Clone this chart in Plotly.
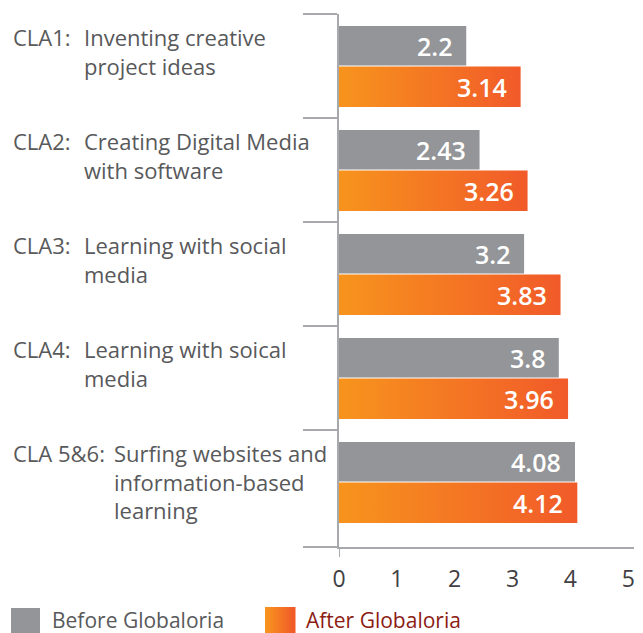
import plotly.graph_objects as go

# ---- data ----
category_codes = ["CLA1:", "CLA2:", "CLA3:", "CLA4:", "CLA 5&6:"]
category_descriptions = [
    "Inventing creative<br>project ideas",
    "Creating Digital Media<br>with software",
    "Learning with social<br>media",
    "Learning with soical<br>media",
    "Surfing websites and<br>information-based<br>learning",
]
before_values = [2.2, 2.43, 3.2, 3.8, 4.08]
after_values = [3.14, 3.26, 3.83, 3.96, 4.12]
value_labels_before = ["2.2", "2.43", "3.2", "3.8", "4.08"]
value_labels_after = ["3.14", "3.26", "3.83", "3.96", "4.12"]
x_tick_values = [0, 1, 2, 3, 4, 5]
x_tick_labels = ["0", "1", "2", "3", "4", "5"]
series_names = ["Before Globaloria", "After Globaloria"]

# ---- style / layout ----
OFF = 8  # page body margin
W, H = 643 - OFF, 633 - OFF
PLOT_LEFT, PLOT_RIGHT, PLOT_TOP, PLOT_BOTTOM = 339, 634, 14, 547  # page px
L = PLOT_LEFT - OFF
T = PLOT_TOP - OFF
PLOT_W = PLOT_RIGHT - PLOT_LEFT
PLOT_H = PLOT_BOTTOM - PLOT_TOP
R = W - L - PLOT_W
B = H - T - PLOT_H
Y_RANGE = [-0.5, 4.625]
X_RANGE = [0, 5.1]
GRAY = "#939598"
ORANGE_L = "#F7941D"
ORANGE_R = "#F15A29"
AXIS = "#A7A9AC"
TEXT = "#58595B"
DARKRED = "#8C1C13"
FONT = "Open Sans"
desc_indent_px = [83, 83, 83, 83, 113]


def px_x(p):
    return (p - PLOT_LEFT) / PLOT_W


def px_y(p):
    return (PLOT_BOTTOM - p) / PLOT_H


positions = list(range(len(category_codes)))

fig = go.Figure()

fig.add_trace(go.Bar(
    y=positions, x=before_values, orientation="h",
    width=0.38, offset=-0.385,
    marker=dict(color=GRAY, line=dict(width=0)),
    name=series_names[0], showlegend=False, hoverinfo="x",
))

for i, v in zip(positions, after_values):
    y0, y1 = i + 0.005, i + 0.395
    fig.add_trace(go.Scatter(
        x=[0, v, v, 0, 0], y=[y0, y0, y1, y1, y0],
        mode="lines", line=dict(width=0), fill="toself",
        fillgradient=dict(type="horizontal",
                          colorscale=[[0, ORANGE_L], [1, ORANGE_R]]),
        name=series_names[1], showlegend=False, hoverinfo="skip",
    ))

ann = []
for i, v, t in zip(positions, before_values, value_labels_before):
    ann.append(dict(x=v, y=i - 0.195, xref="x", yref="y", text=t,
                    xanchor="right", yanchor="middle", xshift=-12, showarrow=False,
                    font=dict(family=FONT, size=25, color="white", weight=600)))
for i, v, t in zip(positions, after_values, value_labels_after):
    ann.append(dict(x=v, y=i + 0.2, xref="x", yref="y", text=t,
                    xanchor="right", yanchor="middle", xshift=-12, showarrow=False,
                    font=dict(family=FONT, size=25, color="white", weight=600)))

for i, code, desc, ind in zip(positions, category_codes, category_descriptions, desc_indent_px):
    ann.append(dict(x=px_x(11), y=i - 0.385, xref="paper", yref="y", text=code,
                    xanchor="left", yanchor="top", yshift=6, showarrow=False, align="left",
                    font=dict(family=FONT, size=22, color=TEXT)))
    ann.append(dict(x=px_x(ind - 1), y=i - 0.385, xref="paper", yref="y", text=desc,
                    xanchor="left", yanchor="top", yshift=6, showarrow=False, align="left",
                    font=dict(family=FONT, size=22, color=TEXT)))

# legend texts
ann.append(dict(x=px_x(50), y=px_y(620), xref="paper", yref="paper",
                text=series_names[0], xanchor="left", yanchor="middle", showarrow=False,
                font=dict(family=FONT, size=21, color=TEXT)))
ann.append(dict(x=px_x(304), y=px_y(620), xref="paper", yref="paper",
                text=series_names[1], xanchor="left", yanchor="middle", showarrow=False,
                font=dict(family=FONT, size=21, color=DARKRED)))

shapes = []
# y-axis extension below x axis
shapes.append(dict(type="line", xref="x", yref="paper", x0=0, x1=0,
                   y0=0, y1=px_y(557), line=dict(color=AXIS, width=2)))
# legend swatches
shapes.append(dict(type="rect", xref="paper", yref="paper",
                   x0=px_x(11), x1=px_x(40), y0=px_y(634), y1=px_y(608),
                   line=dict(width=0), fillcolor=GRAY))


def lerp_color(c1, c2, t):
    a = [int(c1[k:k + 2], 16) for k in (1, 3, 5)]
    b = [int(c2[k:k + 2], 16) for k in (1, 3, 5)]
    return "rgb(%d,%d,%d)" % tuple(round(a[j] + (b[j] - a[j]) * t) for j in range(3))


n_strips = 15
sx0, sx1 = 265, 295
for k in range(n_strips):
    a = sx0 + (sx1 - sx0) * k / n_strips
    b = sx0 + (sx1 - sx0) * (k + 1) / n_strips + 0.5
    shapes.append(dict(type="rect", xref="paper", yref="paper",
                       x0=px_x(a), x1=px_x(b), y0=px_y(634), y1=px_y(607),
                       line=dict(width=0),
                       fillcolor=lerp_color(ORANGE_L, ORANGE_R, k / (n_strips - 1))))

fig.update_layout(
    width=W, height=H,
    margin=dict(l=L, r=R, t=T, b=B, pad=0),
    paper_bgcolor="white", plot_bgcolor="white",
    showlegend=False,
    barmode="overlay",
    annotations=ann,
    shapes=shapes,
    xaxis=dict(range=X_RANGE, tickvals=x_tick_values, ticktext=x_tick_labels,
               showgrid=False, zeroline=False, showline=True, linecolor=AXIS, linewidth=2,
               ticks="", ticklabelstandoff=10,
               tickfont=dict(family=FONT, size=23, color="#414042")),
    yaxis=dict(range=[Y_RANGE[1], Y_RANGE[0]],
               tickvals=[-0.5, 0.5, 1.5, 2.5, 3.5, Y_RANGE[1]],
               ticktext=[""] * 6, showticklabels=False,
               ticks="outside", ticklen=34, tickwidth=2, tickcolor=AXIS,
               showgrid=False, zeroline=False, showline=True, linecolor=AXIS, linewidth=2),
    font=dict(family=FONT),
)

fig.write_html("out.html")
